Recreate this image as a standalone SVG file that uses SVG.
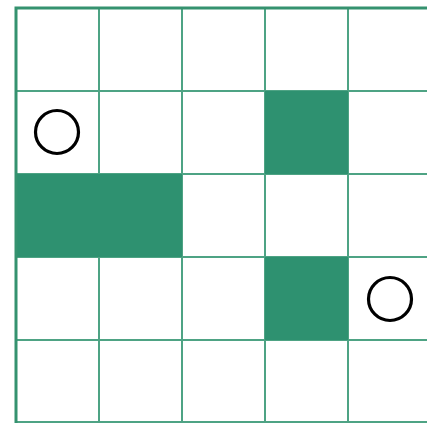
<svg xmlns="http://www.w3.org/2000/svg" width="427" height="423" viewBox="0 0 427 423">
<style>
.fill{fill:#2e9170;stroke:none}
.grid{stroke:#4ea384;stroke-width:2;fill:none}
.border{stroke:#35926f;stroke-width:3;fill:none}
.ring{fill:none;stroke:#000;stroke-width:3.2}
</style>
<rect width="427" height="423" fill="#fff"/>
<g id="grid">
<path class="grid" d="M99 8V422M182 8V422M265 8V422M348 8V422M16 91H427M16 174H427M16 257H427M16 340H427M16 422H427"/>
</g>
<g id="cells">
<rect class="fill" x="265" y="91" width="83" height="83"/>
<rect class="fill" x="16" y="174" width="166" height="83"/>
<rect class="fill" x="265" y="257" width="83" height="83"/>
</g>
<g id="frame"><path class="border" d="M16 423V8H427"/></g>
<g id="marker1"><circle class="ring" cx="57" cy="132" r="21.5"/></g>
<g id="marker2"><circle class="ring" cx="390" cy="299" r="21.5"/></g>
</svg>
